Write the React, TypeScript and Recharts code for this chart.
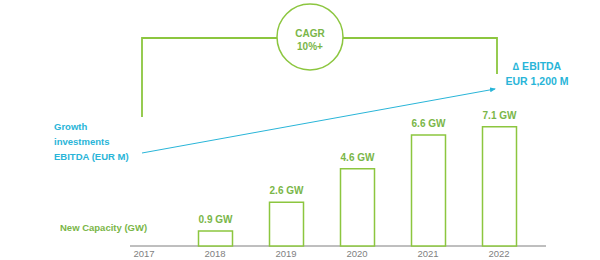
import React from 'react';
import { ComposedChart, Bar, XAxis, YAxis, LabelList, Customized } from 'recharts';

const years = ['2017', '2018', '2019', '2020', '2021', '2022'];
const capacityGW = [null, 0.9, 2.6, 4.6, 6.6, 7.1];
const cagrText = ['CAGR', '10%+'];
const ebitdaText = ['\u2206 EBITDA', 'EUR 1,200 M'];
const leftText = ['Growth', 'investments', 'EBITDA (EUR M)'];
const capacityTitle = 'New Capacity (GW)';

const GREEN = '#8cc63f';
const GREEN_TEXT = '#7ab648';
const CYAN = '#29b5d8';
const GREY = '#7f7f7f';
const FONT = '"Liberation Sans", Arial, sans-serif';

const data = years.map((year, i) => ({ year, gw: capacityGW[i] }));

// value label above each bar, kept on one line
const GwLabel = (props: any) => {
  const { x, y, width, value } = props;
  if (value == null) return null;
  return (
    <text
      x={x + width / 2}
      y={y - 8}
      textAnchor="middle"
      fontSize={10}
      fontWeight="bold"
      fontFamily={FONT}
      fill={GREEN_TEXT}
    >
      {`${value} GW`}
    </text>
  );
};

// annotations drawn on top of the chart (bracket, CAGR bubble, arrow, side texts)
const Annotations = () => (
  <g fontFamily={FONT} fontWeight="bold">
    <defs>
      <marker id="arrowHead" markerWidth="6" markerHeight="6" refX="5" refY="3" orient="auto">
        <path d="M0,0.5 L6,3 L0,5.5 z" fill={CYAN} />
      </marker>
    </defs>
    <line x1={130} y1={246} x2={546} y2={246} stroke={GREY} strokeWidth={1} />
    <polyline points="142,117 142,38 277,38" fill="none" stroke={GREEN} strokeWidth={1.8} />
    <polyline points="343,38 497,38 497,74" fill="none" stroke={GREEN} strokeWidth={1.8} />
    <circle cx={310} cy={37} r={33} fill="#fff" stroke={GREEN} strokeWidth={1.5} />
    <text x={310} y={37} textAnchor="middle" fontSize={10} fill={GREEN_TEXT}>{cagrText[0]}</text>
    <text x={310} y={50} textAnchor="middle" fontSize={10} fill={GREEN_TEXT}>{cagrText[1]}</text>
    <line x1={142} y1={153} x2={495} y2={89} stroke={CYAN} strokeWidth={1} markerEnd="url(#arrowHead)" />
    <text x={537} y={70} textAnchor="middle" fontSize={10.5} fill={CYAN}>{ebitdaText[0]}</text>
    <text x={537} y={85} textAnchor="middle" fontSize={10.5} fill={CYAN}>{ebitdaText[1]}</text>
    {leftText.map((t, i) => (
      <text key={t} x={54} y={130 + i * 15} fontSize={9.5} fill={CYAN}>{t}</text>
    ))}
    <text x={60} y={231} fontSize={9.5} fill={GREEN_TEXT}>{capacityTitle}</text>
  </g>
);

export default function App() {
  return (
    <div style={{ position: 'absolute', left: 0, top: 0, width: 600, height: 260, background: '#fff' }}>
      <ComposedChart
        width={600}
        height={260}
        data={data}
        margin={{ top: 20, right: 65.5, left: 108.5, bottom: 0 }}
      >
        <XAxis
          dataKey="year"
          axisLine={false}
          tickLine={false}
          height={14}
          tickSize={2}
          dy={0}
          tick={{ fill: GREY, fontSize: 9.5, fontFamily: FONT }}
        />
        <YAxis hide domain={[0, 13.45]} />
        <Bar dataKey="gw" fill="#fff" stroke={GREEN} strokeWidth={1.5} barSize={34} isAnimationActive={false}>
          <LabelList dataKey="gw" content={GwLabel} />
        </Bar>
        <Customized component={Annotations} />
      </ComposedChart>
    </div>
  );
}
